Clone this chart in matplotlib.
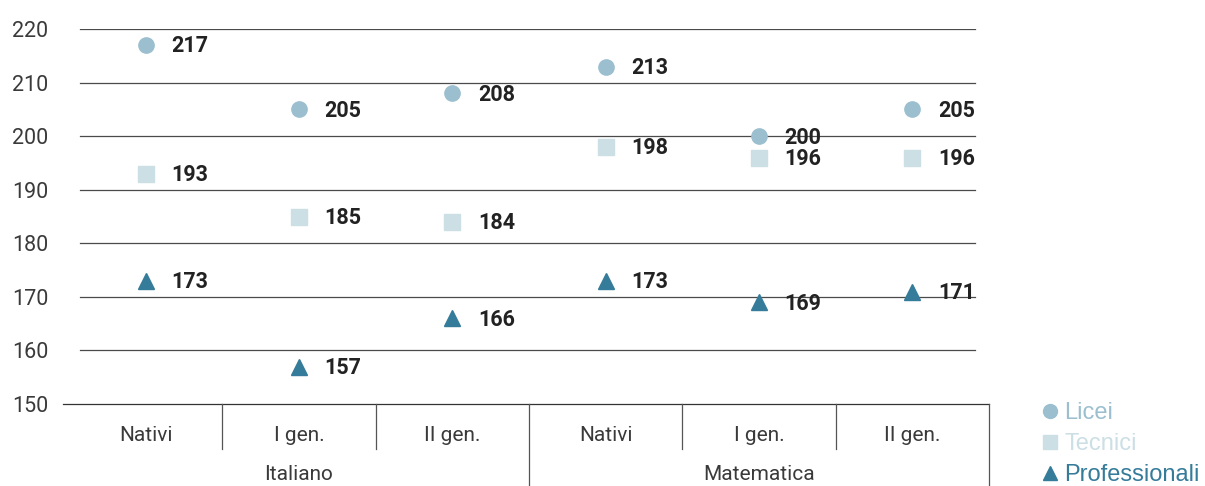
import numpy as np
import matplotlib.pyplot as plt
from matplotlib.lines import Line2D

# punteggi medi per tipo di scuola
subgroups = ['Nativi', 'I gen.', 'II gen.', 'Nativi', 'I gen.', 'II gen.']
groups = ['Italiano', 'Matematica']
licei = [217, 205, 208, 213, 200, 205]
tecnici = [193, 185, 184, 198, 196, 196]
professionali = [173, 157, 166, 173, 169, 171]
yticks = [150, 160, 170, 180, 190, 200, 210, 220]

c_licei = '#9bbfcf'
c_tecnici = '#cbdfe5'
c_prof = '#357b9a'

plt.rcParams['font.family'] = ['Roboto', 'DejaVu Sans']

fig = plt.figure(figsize=(12.05, 4.86), dpi=100)
ax = fig.add_axes([69 / 1205, 82 / 486, 920 / 1205, 375 / 486])

x = np.arange(len(subgroups)) + 0.5
ax.set_xlim(0, 6)
ax.set_ylim(150, 220)

# gridlines
for t in yticks[1:]:
    ax.axhline(t, xmin=0.012, xmax=0.985, color='#4a4a4a', lw=0.9, zorder=1)
ax.plot([-0.04, 6], [150, 150], color='#333333', lw=0.9, clip_on=False, zorder=1)

series = [(licei, 'o', c_licei, 11, 'Licei'),
          (tecnici, 's', c_tecnici, 11, 'Tecnici'),
          (professionali, '^', c_prof, 11, 'Professionali')]
handles = []
for vals, m, c, ms, name in series:
    ax.plot(x, vals, ls='none', marker=m, color=c, markersize=ms, zorder=3)
    for xi, v in zip(x, vals):
        ax.annotate(str(v), (xi, v), xytext=(18.5, -1), textcoords='offset points',
                    ha='left', va='center', fontsize=15.5, fontweight='bold',
                    color='#222222')
    handles.append(Line2D([], [], ls='none', marker=m, color=c, markersize=10, label=name))

for s in ax.spines.values():
    s.set_visible(False)

ax.set_yticks(yticks)
ax.set_yticklabels([str(t) for t in yticks], fontsize=15.5, color='#3a3a3a')
ax.tick_params(axis='y', length=0, pad=15)
ax.set_xticks([])

# separators and category labels
trans = ax.get_xaxis_transform()
for i in range(1, 7):
    low = -0.22 if i % 3 == 0 else -0.12
    ax.plot([i, i], [0, low], transform=trans, color='#555555', lw=0.9, clip_on=False)
for xi, lab in zip(x, subgroups):
    ax.text(xi, -0.083, lab, transform=trans, ha='center', va='center',
            fontsize=15, color='#3a3a3a')
for gi, g in enumerate(groups):
    ax.text(gi * 3 + 1.5, -0.187, g, transform=trans, ha='center', va='center',
            fontsize=15, color='#3a3a3a')

leg = fig.legend(handles=handles, loc='upper left', bbox_to_anchor=(1043 / 1205, 1 - 402 / 486),
                 frameon=False, labelcolor=[c_licei, c_tecnici, c_prof],
                 handlelength=0.6, handletextpad=0.3, labelspacing=0.38, borderpad=0,
                 borderaxespad=0, prop={'family': 'Liberation Sans', 'size': 17})

fig.savefig('out.png', dpi=100)
